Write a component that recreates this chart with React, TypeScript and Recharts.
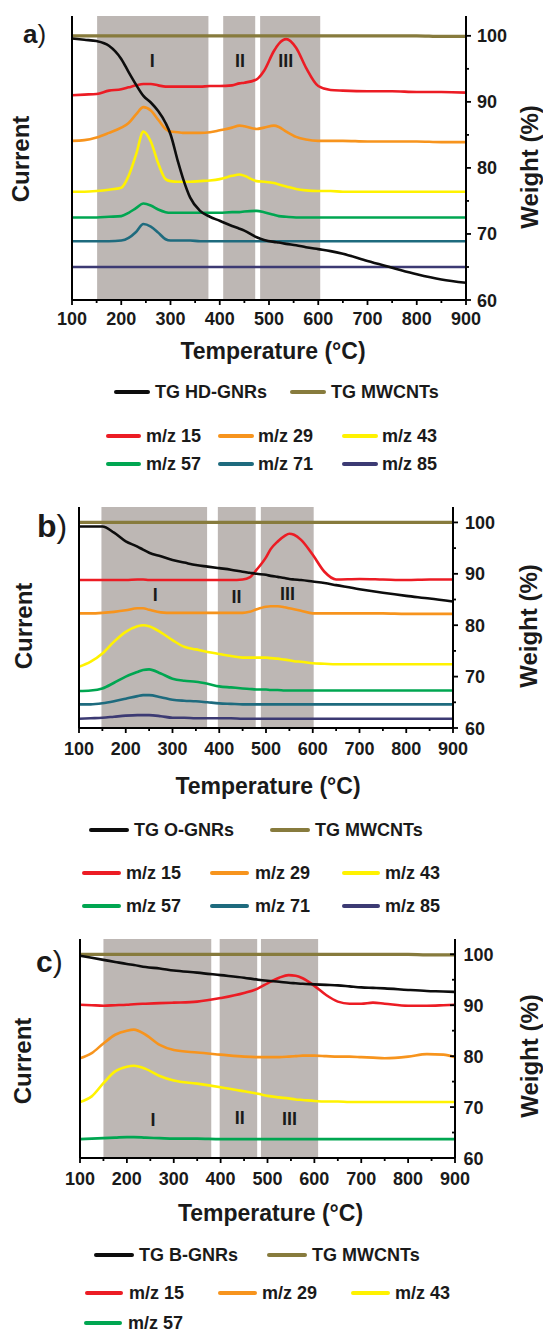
import React from 'react';
import { ComposedChart, Line, XAxis, YAxis, ReferenceArea, ReferenceDot } from 'recharts';

const FONT = '"Liberation Sans", Arial, Helvetica, sans-serif';
const INK = '#1a1a1a';

const COLORS: Record<string, string> = {
  tg: '#0d0d0d', mw: '#877b3d', m15: '#ec1c24', m29: '#f7941d', m43: '#fff200',
  m57: '#00a651', m71: '#1e6b7e', m85: '#3c3a73', band: '#bdb7b4',
};

// ---------- axis ticks ----------
const X_TICKS = [100, 150, 200, 250, 300, 350, 400, 450, 500, 550, 600, 650, 700, 750, 800, 850, 900];
const TOP_TICKS = [150, 200, 250, 300, 350, 400, 450, 500, 550, 600, 650, 700, 750, 800, 850];
const LEFT_TICKS = [65, 70, 75, 80, 85, 90, 95, 100];
const RIGHT_TICKS = [60, 65, 70, 75, 80, 85, 90, 95, 100];
const W_DOMAIN = [60, 103];

// ---------- panel a ----------
const TEMP_A = [100, 125, 150, 175, 200, 215, 230, 245, 260, 275, 290, 300, 315, 325, 340, 360, 380, 400, 425, 440, 450, 475, 490, 510, 520, 535, 555, 575, 600, 625, 650, 700, 750, 800, 850, 900];
const A_TG = [99.6, 99.4, 99.2, 98.5, 96.5, 94.5, 92.6, 90.9, 89.9, 88.6, 86.8, 85.1, 81.0, 78.5, 75.5, 73.5, 72.6, 72.0, 71.2, 70.8, 70.5, 69.5, 69.1, 68.8, 68.7, 68.5, 68.3, 68.0, 67.7, 67.4, 67.0, 65.9, 64.9, 63.9, 63.1, 62.6];
const A_MW = [100, 100, 100, 100, 100, 100, 100, 100, 100, 100, 100, 100, 100, 100, 100, 100, 100, 100, 100, 100, 100, 100, 100, 100, 100, 100, 100, 100, 100, 100, 100, 100, 100, 100, 99.9, 99.9];
const A_M15 = [91.0, 91.1, 91.2, 91.7, 91.9, 92.2, 92.5, 92.7, 92.7, 92.5, 92.3, 92.3, 92.3, 92.3, 92.3, 92.3, 92.4, 92.4, 92.5, 92.8, 92.9, 93.4, 94.7, 97.7, 98.8, 99.5, 98.2, 95.2, 92.4, 91.8, 91.7, 91.6, 91.6, 91.5, 91.5, 91.4];
const A_M29 = [84.1, 84.2, 84.6, 85.3, 86.1, 86.8, 88.1, 89.2, 88.7, 87.3, 85.9, 85.5, 85.4, 85.3, 85.3, 85.3, 85.4, 85.7, 86.1, 86.4, 86.3, 85.9, 86.1, 86.4, 86.2, 85.5, 84.7, 84.3, 84.1, 84.1, 84.1, 84.0, 84.0, 84.0, 83.9, 83.9];
const A_M43 = [76.4, 76.4, 76.5, 76.7, 77.0, 78.8, 82.0, 85.5, 84.0, 80.7, 78.3, 78.0, 77.9, 77.9, 77.9, 78.0, 78.1, 78.3, 78.8, 79.0, 78.8, 78.0, 77.9, 77.7, 77.5, 77.2, 76.8, 76.6, 76.5, 76.5, 76.4, 76.4, 76.4, 76.4, 76.4, 76.4];
const A_M57 = [72.5, 72.5, 72.5, 72.6, 72.7, 73.2, 73.9, 74.6, 74.3, 73.7, 73.3, 73.2, 73.2, 73.2, 73.2, 73.2, 73.2, 73.2, 73.3, 73.3, 73.4, 73.5, 73.3, 72.9, 72.7, 72.6, 72.5, 72.5, 72.5, 72.5, 72.5, 72.5, 72.5, 72.5, 72.5, 72.5];
const A_M71 = [68.9, 68.9, 68.9, 68.9, 69.0, 69.4, 70.3, 71.5, 71.1, 70.2, 69.2, 69.0, 69.0, 69.0, 69.0, 68.9, 68.9, 68.9, 68.9, 68.9, 68.9, 68.9, 68.9, 68.9, 68.9, 68.9, 68.9, 68.9, 68.9, 68.9, 68.9, 68.9, 68.9, 68.9, 68.9, 68.9];
const A_M85 = [65.0, 65.0, 65.0, 65.0, 65.0, 65.0, 65.0, 65.0, 65.0, 65.0, 65.0, 65.0, 65.0, 65.0, 65.0, 65.0, 65.0, 65.0, 65.0, 65.0, 65.0, 65.0, 65.0, 65.0, 65.0, 65.0, 65.0, 65.0, 65.0, 65.0, 65.0, 65.0, 65.0, 65.0, 65.0, 65.0];
const BANDS_A = [[151, 377], [407, 472], [482, 604]];
const ROMAN_A = [{ t: 263, w: 96.2, s: 'I' }, { t: 441, w: 96.2, s: 'II' }, { t: 534, w: 96.2, s: 'III' }];

// ---------- panel b ----------
const TEMP_B = [100, 125, 150, 175, 200, 225, 237, 250, 275, 300, 325, 350, 375, 400, 425, 450, 465, 480, 500, 510, 525, 540, 550, 560, 575, 600, 625, 650, 700, 750, 800, 850, 900];
const B_TG = [99.2, 99.2, 99.2, 98.0, 96.3, 95.3, 94.7, 94.1, 93.4, 92.7, 92.2, 91.7, 91.4, 91.1, 90.8, 90.4, 90.2, 90.0, 89.8, 89.6, 89.4, 89.2, 89.0, 88.9, 88.8, 88.5, 88.2, 87.8, 87.0, 86.3, 85.7, 85.2, 84.6];
const B_MW = [100, 100, 100, 100, 100, 100, 100, 100, 100, 100, 100, 100, 100, 100, 100, 100, 100, 100, 100, 100, 100, 100, 100, 100, 100, 100, 100, 100, 100, 100, 100, 100, 100];
const B_M15 = [88.8, 88.8, 88.8, 88.8, 88.8, 88.9, 88.9, 88.8, 88.8, 88.8, 88.8, 88.8, 88.8, 88.8, 88.8, 88.9, 89.3, 90.8, 93.2, 94.8, 96.3, 97.4, 97.8, 97.6, 96.6, 93.7, 90.4, 88.9, 89.0, 88.9, 88.8, 88.9, 88.9];
const B_M29 = [82.3, 82.3, 82.4, 82.6, 82.9, 83.3, 83.3, 83.0, 82.5, 82.4, 82.4, 82.4, 82.4, 82.4, 82.4, 82.4, 82.6, 83.1, 83.6, 83.7, 83.7, 83.5, 83.3, 83.1, 82.8, 82.3, 82.3, 82.3, 82.3, 82.3, 82.2, 82.2, 82.2];
const B_M43 = [71.9, 72.9, 74.5, 76.8, 78.7, 79.8, 80.0, 79.8, 78.6, 77.1, 75.8, 75.3, 74.8, 74.4, 74.0, 73.7, 73.7, 73.7, 73.7, 73.6, 73.5, 73.3, 73.2, 73.0, 72.9, 72.6, 72.5, 72.4, 72.4, 72.4, 72.4, 72.4, 72.4];
const B_M57 = [67.2, 67.3, 67.7, 68.8, 70.0, 70.9, 71.3, 71.4, 70.6, 69.6, 69.2, 69.0, 68.6, 68.1, 67.9, 67.7, 67.6, 67.5, 67.5, 67.4, 67.4, 67.3, 67.3, 67.3, 67.3, 67.3, 67.3, 67.3, 67.3, 67.3, 67.3, 67.3, 67.3];
const B_M71 = [64.6, 64.6, 64.8, 65.2, 65.7, 66.2, 66.4, 66.4, 66.0, 65.5, 65.3, 65.2, 65.0, 64.8, 64.7, 64.6, 64.6, 64.6, 64.6, 64.6, 64.6, 64.6, 64.6, 64.6, 64.6, 64.6, 64.6, 64.6, 64.6, 64.6, 64.6, 64.6, 64.6];
const B_M85 = [61.8, 61.9, 62.0, 62.2, 62.4, 62.5, 62.5, 62.5, 62.3, 62.0, 62.0, 61.9, 61.9, 61.9, 61.9, 61.8, 61.8, 61.8, 61.8, 61.8, 61.8, 61.8, 61.8, 61.8, 61.8, 61.8, 61.8, 61.8, 61.8, 61.8, 61.8, 61.8, 61.8];
const BANDS_B = [[148, 374], [397, 478], [489, 602]];
const ROMAN_B = [{ t: 263, w: 85.9, s: 'I' }, { t: 437, w: 85.6, s: 'II' }, { t: 546, w: 86.2, s: 'III' }];

// ---------- panel c ----------
const TEMP_C = [100, 125, 150, 175, 200, 215, 240, 270, 300, 350, 400, 450, 480, 500, 525, 545, 560, 575, 600, 625, 650, 675, 700, 725, 750, 800, 840, 875, 900];
const C_TG = [99.7, 99.3, 98.9, 98.5, 98.1, 97.9, 97.5, 97.2, 96.8, 96.4, 95.9, 95.4, 95.0, 94.8, 94.6, 94.4, 94.3, 94.2, 94.1, 94.0, 93.9, 93.7, 93.5, 93.4, 93.3, 93.0, 92.8, 92.7, 92.6];
const C_MW = [100, 100, 100, 100, 100, 100, 100, 100, 100, 100, 100, 100, 100, 100, 100, 100, 100, 100, 100, 100, 100, 100, 100, 100, 100, 100, 99.9, 99.9, 99.9];
const C_M15 = [90.1, 90.0, 89.9, 90.0, 90.1, 90.2, 90.3, 90.4, 90.5, 90.7, 91.4, 92.4, 93.3, 94.3, 95.4, 95.9, 95.8, 95.3, 93.8, 92.0, 90.7, 90.3, 90.3, 90.5, 90.3, 89.9, 89.9, 90.0, 90.1];
const C_M29 = [79.6, 80.6, 82.5, 84.2, 85.0, 85.2, 84.2, 82.2, 81.2, 80.7, 80.3, 79.9, 79.8, 79.8, 79.8, 79.9, 80.0, 80.1, 80.1, 80.0, 79.9, 79.9, 79.8, 79.7, 79.6, 79.9, 80.4, 80.3, 79.8];
const C_M43 = [71.0, 72.1, 74.7, 77.0, 77.9, 78.1, 77.5, 76.1, 75.2, 74.6, 73.9, 73.1, 72.6, 72.2, 71.9, 71.7, 71.5, 71.4, 71.2, 71.1, 71.1, 71.0, 71.0, 71.0, 71.0, 71.0, 71.0, 71.0, 71.0];
const C_M57 = [63.7, 63.8, 63.9, 64.0, 64.1, 64.1, 64.0, 63.9, 63.8, 63.8, 63.7, 63.7, 63.7, 63.7, 63.7, 63.7, 63.7, 63.7, 63.7, 63.7, 63.7, 63.7, 63.7, 63.7, 63.7, 63.7, 63.7, 63.7, 63.7];
const BANDS_C = [[150, 380], [398, 478], [486, 608]];
const ROMAN_C = [{ t: 256, w: 67.5, s: 'I' }, { t: 441, w: 68.0, s: 'II' }, { t: 547, w: 67.8, s: 'III' }];

// ---------- legend labels ----------
const MS_LABELS: Record<string, string> = {
  m15: 'm/z 15', m29: 'm/z 29', m43: 'm/z 43', m57: 'm/z 57', m71: 'm/z 71', m85: 'm/z 85',
};

function buildRows(temps: number[], series: Record<string, number[]>) {
  return temps.map((t, i) => {
    const row: Record<string, number> = { t };
    Object.keys(series).forEach((k) => { row[k] = series[k][i]; });
    return row;
  });
}

const ROWS_A = buildRows(TEMP_A, { tg: A_TG, mw: A_MW, m15: A_M15, m29: A_M29, m43: A_M43, m57: A_M57, m71: A_M71, m85: A_M85 });
const ROWS_B = buildRows(TEMP_B, { tg: B_TG, mw: B_MW, m15: B_M15, m29: B_M29, m43: B_M43, m57: B_M57, m71: B_M71, m85: B_M85 });
const ROWS_C = buildRows(TEMP_C, { tg: C_TG, mw: C_MW, m15: C_M15, m29: C_M29, m43: C_M43, m57: C_M57 });

// ---------- custom ticks ----------
const tickText = { fontFamily: FONT, fontWeight: 700, fontSize: 18, fill: INK } as const;

function BottomTick(props: any) {
  const { x, y, payload, labelDy } = props;
  const v = payload.value;
  const major = v % 100 === 0;
  return (
    <g>
      <line x1={x} x2={x} y1={y} y2={y + (major ? 5 : 3)} stroke="#000" strokeWidth={1.8} />
      {major && <text x={x} y={y + labelDy} textAnchor="middle" {...tickText}>{v}</text>}
    </g>
  );
}

function TopTick(props: any) {
  const { x, y } = props;
  return <line x1={x} x2={x} y1={y} y2={y + 4} stroke="#000" strokeWidth={1.8} />;
}

function LeftTick(props: any) {
  const { x, y } = props;
  return <line x1={x} x2={x + 4} y1={y} y2={y} stroke="#000" strokeWidth={1.8} />;
}

function RightTick(props: any) {
  const { x, y, payload, gap, inward } = props;
  const v = payload.value;
  const major = v % 10 === 0;
  const len = major ? 5 : 3;
  return (
    <g>
      <line x1={inward ? x - len : x} x2={inward ? x : x + len} y1={y} y2={y} stroke="#000" strokeWidth={1.8} />
      {major && <text x={x + gap} y={y + 6.5} textAnchor="start" {...tickText}>{v}</text>}
    </g>
  );
}

type PanelProps = {
  top: number; height: number; plotLeft: number; plotRight: number; plotTop: number; plotBottom: number;
  rows: Record<string, number>[]; keys: string[]; bands: number[][]; roman: { t: number; w: number; s: string }[];
  labelDy: number; gap: number; inward: boolean;
};

function Panel(p: PanelProps) {
  const msKeys = p.keys.filter((k) => k.startsWith('m') && k !== 'mw');
  return (
    <div style={{ position: 'absolute', left: 0, top: p.top, width: 543, height: p.height }}>
      <ComposedChart
        width={543}
        height={p.height}
        data={p.rows}
        margin={{ top: p.plotTop - p.top, right: 0, bottom: 0, left: 0 }}
      >
        <XAxis
          xAxisId="x" dataKey="t" type="number" domain={[100, 900]} ticks={X_TICKS} interval={0}
          orientation="bottom" height={p.top + p.height - p.plotBottom}
          axisLine={{ stroke: '#000', strokeWidth: 2 }} tickLine={false} tickSize={0} tickMargin={0}
          tick={(tp: any) => <BottomTick {...tp} labelDy={p.labelDy} />}
        />
        <XAxis
          xAxisId="top" dataKey="t" type="number" domain={[100, 900]} ticks={TOP_TICKS} interval={0}
          orientation="top" height={0}
          axisLine={{ stroke: '#000', strokeWidth: 2 }} tickLine={false} tickSize={0} tickMargin={0}
          tick={(tp: any) => <TopTick {...tp} />}
        />
        <YAxis
          yAxisId="cur" type="number" domain={W_DOMAIN} ticks={LEFT_TICKS} interval={0}
          orientation="left" width={p.plotLeft}
          axisLine={{ stroke: '#000', strokeWidth: 2 }} tickLine={false} tickSize={0} tickMargin={0}
          tick={(tp: any) => <LeftTick {...tp} />}
        />
        <YAxis
          yAxisId="w" type="number" domain={W_DOMAIN} ticks={RIGHT_TICKS} interval={0}
          orientation="right" width={543 - p.plotRight}
          axisLine={{ stroke: '#000', strokeWidth: 2 }} tickLine={false} tickSize={0} tickMargin={0}
          tick={(tp: any) => <RightTick {...tp} gap={p.gap} inward={p.inward} />}
        />
        {p.bands.map((b, i) => (
          <ReferenceArea key={'band' + i} xAxisId="x" yAxisId="w" x1={b[0]} x2={b[1]} y1={60} y2={103}
            fill={COLORS.band} fillOpacity={1} stroke="none" ifOverflow="hidden" />
        ))}
        {msKeys.map((k) => (
          <Line key={k} xAxisId="x" yAxisId="w" dataKey={k} type="monotone" stroke={COLORS[k]}
            strokeWidth={2.6} dot={false} activeDot={false} isAnimationActive={false} />
        ))}
        <Line xAxisId="x" yAxisId="w" dataKey="mw" type="monotone" stroke={COLORS.mw}
          strokeWidth={3.2} dot={false} activeDot={false} isAnimationActive={false} />
        <Line xAxisId="x" yAxisId="w" dataKey="tg" type="monotone" stroke={COLORS.tg}
          strokeWidth={2.6} dot={false} activeDot={false} isAnimationActive={false} />
        {p.roman.map((r, i) => (
          <ReferenceDot key={'r' + i} xAxisId="x" yAxisId="w" x={r.t} y={r.w} r={1} fill="none" stroke="none"
            label={{ value: r.s, position: 'center', fontFamily: FONT, fontWeight: 700, fontSize: 18, fill: INK }} />
        ))}
      </ComposedChart>
    </div>
  );
}

// ---------- html text helpers ----------
function CText({ x, y, size, children, rotate }: { x: number; y: number; size: number; children: React.ReactNode; rotate?: boolean }) {
  return (
    <div style={{
      position: 'absolute', left: x, top: y, fontFamily: FONT, fontWeight: 700, fontSize: size,
      lineHeight: 1, color: INK, whiteSpace: 'nowrap',
      transform: `translate(-50%, -50%)${rotate ? ' rotate(-90deg)' : ''}`,
    }}>{children}</div>
  );
}

function PanelLetter({ x, y, size, letter }: { x: number; y: number; size: number; letter: string }) {
  return (
    <div style={{ position: 'absolute', left: x, top: y, fontFamily: FONT, fontSize: size, lineHeight: 1, color: INK, whiteSpace: 'nowrap' }}>
      <span style={{ fontWeight: 700 }}>{letter}</span><span style={{ fontWeight: 400 }}>)</span>
    </div>
  );
}

function LegendItem({ x1, x2, tx, y, color, label }: { x1: number; x2: number; tx: number; y: number; color: string; label: string }) {
  return (
    <>
      <div style={{ position: 'absolute', left: x1, top: y - 2, width: x2 - x1, height: 4, background: color, borderRadius: 2 }} />
      <div style={{
        position: 'absolute', left: tx, top: y, transform: 'translateY(-50%)', fontFamily: FONT,
        fontWeight: 700, fontSize: 18, lineHeight: 1, color: INK, whiteSpace: 'nowrap',
      }}>{label}</div>
    </>
  );
}

export default function App() {
  return (
    <div style={{ position: 'absolute', left: 0, top: 0, width: 543, height: 1334, background: '#fff', overflow: 'hidden' }}>
      {/* panel a */}
      <Panel top={0} height={340} plotLeft={72} plotRight={466} plotTop={16} plotBottom={300}
        rows={ROWS_A} keys={['tg', 'mw', 'm15', 'm29', 'm43', 'm57', 'm71', 'm85']}
        bands={BANDS_A} roman={ROMAN_A} labelDy={25} gap={11} inward={false} />
      <PanelLetter x={23} y={21} size={26} letter="a" />
      <CText x={21} y={159} size={24} rotate>Current</CText>
      <CText x={530} y={167} size={24} rotate>Weight (%)</CText>
      <CText x={273} y={351} size={23}>Temperature (°C)</CText>
      <LegendItem x1={114} x2={150} tx={155} y={392} color={COLORS.tg} label="TG HD-GNRs" />
      <LegendItem x1={290} x2={326} tx={331} y={392} color={COLORS.mw} label="TG MWCNTs" />
      <LegendItem x1={106} x2={141} tx={146} y={436} color={COLORS.m15} label={MS_LABELS.m15} />
      <LegendItem x1={218} x2={254} tx={258} y={436} color={COLORS.m29} label={MS_LABELS.m29} />
      <LegendItem x1={342} x2={378} tx={382} y={436} color={COLORS.m43} label={MS_LABELS.m43} />
      <LegendItem x1={106} x2={141} tx={146} y={464} color={COLORS.m57} label={MS_LABELS.m57} />
      <LegendItem x1={218} x2={254} tx={258} y={464} color={COLORS.m71} label={MS_LABELS.m71} />
      <LegendItem x1={342} x2={378} tx={382} y={464} color={COLORS.m85} label={MS_LABELS.m85} />

      {/* panel b */}
      <Panel top={480} height={290} plotLeft={79} plotRight={453} plotTop={507} plotBottom={728}
        rows={ROWS_B} keys={['tg', 'mw', 'm15', 'm29', 'm43', 'm57', 'm71', 'm85']}
        bands={BANDS_B} roman={ROMAN_B} labelDy={26.5} gap={12} inward={false} />
      <PanelLetter x={37} y={510} size={32} letter="b" />
      <CText x={23.5} y={626} size={24} rotate>Current</CText>
      <CText x={529} y={626} size={24} rotate>Weight (%)</CText>
      <CText x={268} y={786} size={23}>Temperature (°C)</CText>
      <LegendItem x1={89} x2={129} tx={134} y={830} color={COLORS.tg} label="TG O-GNRs" />
      <LegendItem x1={270} x2={310} tx={315} y={830} color={COLORS.mw} label="TG MWCNTs" />
      <LegendItem x1={82} x2={121} tx={126} y={873} color={COLORS.m15} label={MS_LABELS.m15} />
      <LegendItem x1={210} x2={249} tx={255} y={873} color={COLORS.m29} label={MS_LABELS.m29} />
      <LegendItem x1={342} x2={380} tx={385} y={873} color={COLORS.m43} label={MS_LABELS.m43} />
      <LegendItem x1={82} x2={121} tx={126} y={906} color={COLORS.m57} label={MS_LABELS.m57} />
      <LegendItem x1={210} x2={249} tx={255} y={906} color={COLORS.m71} label={MS_LABELS.m71} />
      <LegendItem x1={342} x2={380} tx={385} y={906} color={COLORS.m85} label={MS_LABELS.m85} />

      {/* panel c */}
      <Panel top={920} height={280} plotLeft={80} plotRight={455} plotTop={939} plotBottom={1158}
        rows={ROWS_C} keys={['tg', 'mw', 'm15', 'm29', 'm43', 'm57']}
        bands={BANDS_C} roman={ROMAN_C} labelDy={26.5} gap={8.5} inward={true} />
      <PanelLetter x={36} y={947} size={30} letter="c" />
      <CText x={23} y={1061} size={24} rotate>Current</CText>
      <CText x={529.5} y={1056} size={24} rotate>Weight (%)</CText>
      <CText x={270.5} y={1213} size={23}>Temperature (°C)</CText>
      <LegendItem x1={94} x2={134} tx={139} y={1255} color={COLORS.tg} label="TG B-GNRs" />
      <LegendItem x1={267} x2={307} tx={312} y={1255} color={COLORS.mw} label="TG MWCNTs" />
      <LegendItem x1={85} x2={123} tx={129} y={1293} color={COLORS.m15} label={MS_LABELS.m15} />
      <LegendItem x1={218} x2={257} tx={262} y={1293} color={COLORS.m29} label={MS_LABELS.m29} />
      <LegendItem x1={351} x2={390} tx={395} y={1293} color={COLORS.m43} label={MS_LABELS.m43} />
      <LegendItem x1={84} x2={122} tx={128} y={1323} color={COLORS.m57} label={MS_LABELS.m57} />
    </div>
  );
}
